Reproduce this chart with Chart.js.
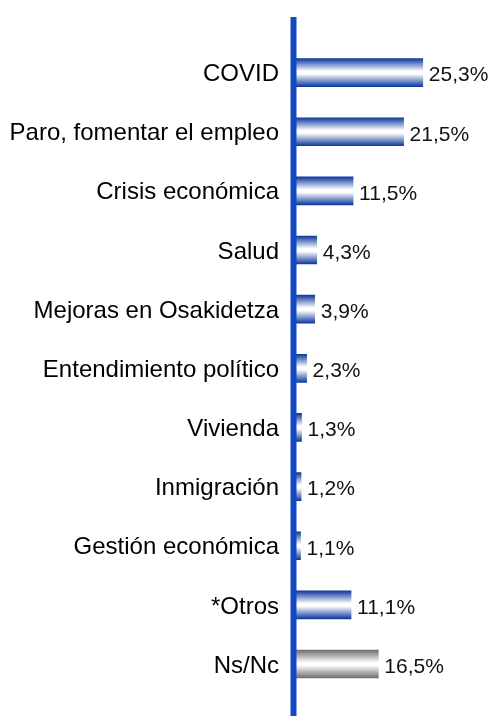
<!DOCTYPE html>
<html>
<head>
<meta charset="utf-8">
<script src="https://cdn.jsdelivr.net/npm/chart.js@4"></script>
<style>
  html, body { margin: 0; padding: 0; background: #fff; }
  #wrap { width: 494px; height: 716px; }
</style>
</head>
<body>
<div id="wrap"><canvas id="chart"></canvas></div>
<script>
const categorias = ["COVID", "Paro, fomentar el empleo", "Crisis económica", "Salud",
    "Mejoras en Osakidetza", "Entendimiento político", "Vivienda", "Inmigración",
    "Gestión económica", "*Otros", "Ns/Nc"];
const valores = [25.3, 21.5, 11.5, 4.3, 3.9, 2.3, 1.3, 1.2, 1.1, 11.1, 16.5];
const etiquetas = ["25,3%", "21,5%", "11,5%", "4,3%", "3,9%", "2,3%", "1,3%", "1,2%", "1,1%", "11,1%", "16,5%"];

const GROSOR = 28;

function degradado(context) {
    const chart = context.chart;
    const y = chart.scales.y;
    const borde = context.dataIndex === categorias.length - 1 ? '#6e6e6e' : '#0d399c';
    if (!y || context.dataIndex === undefined) return borde;
    const centro = y.getPixelForValue(context.dataIndex);
    if (!isFinite(centro)) return borde;
    const g = chart.ctx.createLinearGradient(0, centro - GROSOR / 2, 0, centro + GROSOR / 2);
    g.addColorStop(0, borde);
    g.addColorStop(0.45, '#ffffff');
    g.addColorStop(0.55, '#ffffff');
    g.addColorStop(1, borde);
    return g;
}

// línea vertical del eje, más larga que el área
const ejePlugin = {
    id: 'eje',
    afterDatasetsDraw(chart) {
        const ctx = chart.ctx;
        const x = chart.scales.x.getPixelForValue(0) - 1.5;
        ctx.save();
        ctx.fillStyle = '#1447c2';
        ctx.fillRect(x - 3, 17, 6, chart.height - 17);
        ctx.restore();
    }
};

// etiquetas de valor al final de cada barra
const valoresPlugin = {
    id: 'valores',
    afterDatasetsDraw(chart) {
        const ctx = chart.ctx;
        const meta = chart.getDatasetMeta(0);
        ctx.save();
        ctx.font = '21px "Liberation Sans", Arial, sans-serif';
        ctx.fillStyle = '#111';
        ctx.textBaseline = 'middle';
        meta.data.forEach((bar, i) => {
            ctx.fillText(etiquetas[i], bar.x + 6, bar.y + 3);
        });
        ctx.restore();
    }
};

new Chart(document.getElementById('chart'), {
    type: 'bar',
    data: {
        labels: categorias,
        datasets: [{
            data: valores,
            backgroundColor: degradado,
            barThickness: GROSOR,
            borderWidth: 0
        }]
    },
    options: {
        indexAxis: 'y',
        responsive: true,
        maintainAspectRatio: false,
        animation: false,
        layout: { padding: { top: 43, bottom: 21, right: 0, left: 0 } },
        plugins: {
            legend: { display: false },
            tooltip: { enabled: false }
        },
        scales: {
            x: {
                display: false,
                min: 0,
                max: 39.4
            },
            y: {
                grid: { display: false },
                border: { display: false },
                afterFit(scale) { scale.width = 295; },
                ticks: {
                    padding: 8,
                    labelOffset: 2,
                    color: '#000',
                    font: { family: '"Liberation Sans", Arial, sans-serif', size: 24 }
                }
            }
        }
    },
    plugins: [ejePlugin, valoresPlugin]
});
</script>
</body>
</html>
